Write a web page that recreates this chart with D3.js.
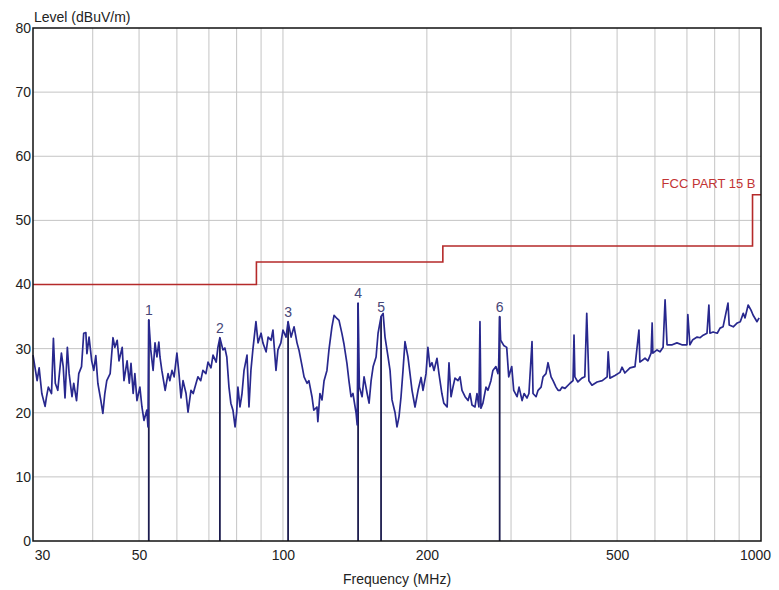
<!DOCTYPE html>
<html>
<head>
<meta charset="utf-8">
<script src="https://cdn.jsdelivr.net/npm/d3@7"></script>
<style>
  body { margin: 0; background: #fff; }
  text { font-family: "Liberation Sans", Arial, sans-serif; }
</style>
</head>
<body>
<svg id="chart"></svg>
<script>
// scan trace (MHz, dBuV/m)
var traceFreq = [
  30.0, 30.3, 30.6, 30.9, 31.3, 31.8, 32.0, 32.3, 32.8, 33.1, 33.4, 33.8, 34.4, 34.7, 35.0, 35.4, 35.7, 36.2, 36.5, 37.0,
  37.4, 37.9, 38.3, 38.7, 38.9, 39.3, 39.8, 40.2, 40.6, 41.0, 41.6, 42.0, 42.4, 42.8, 43.5, 44.1, 44.5, 45.0, 45.4, 46.1,
  46.5, 47.2, 47.7, 48.1, 48.6, 49.0, 49.5, 50.2, 50.7, 51.2, 51.9, 52.2, 52.4, 52.9, 53.5, 54.0, 54.5, 55.0, 55.3, 55.8,
  56.7, 57.5, 58.0, 58.6, 59.2, 60.0, 60.6, 61.2, 61.8, 62.7, 63.3, 64.2, 64.9, 65.8, 66.4, 67.3, 68.0, 69.0, 69.7, 70.7,
  71.4, 72.5, 73.1, 73.8, 74.9, 75.6, 76.3, 77.1, 77.8, 78.6, 79.4, 80.0, 80.5, 81.3, 82.1, 82.9, 84.1, 84.9, 85.7, 86.5,
  87.8, 88.7, 90.0, 90.8, 92.2, 93.1, 94.4, 95.3, 96.7, 97.6, 99.0, 100, 101.5, 102.5, 104, 105.5, 107, 108, 109.7, 110.7,
  112.3, 113.3, 115, 116, 117.8, 118.3, 119.5, 120.7, 121.9, 123.6, 124.8, 126.6, 127.9, 129.7, 131, 132.9, 134.1, 136.1, 137.4, 138.8,
  140.1, 142.2, 143.0, 143.6, 144.5, 146.4, 147.8, 150, 151.4, 152.9, 154.4, 156.6, 158.1, 160.4, 162, 163.5, 165.9, 167.5, 169.1, 171.6,
  173.2, 174.9, 176.6, 178.3, 180, 182.6, 184.4, 186.2, 188.9, 191.7, 194.5, 196.3, 199.2, 201, 203, 205, 207, 210, 212, 215,
  217, 220.5, 222.5, 224.7, 226.8, 229, 232.3, 234.6, 236.9, 240.4, 243.9, 246.2, 248.6, 252.2, 254.6, 257, 258.3, 259.5, 262, 265.9,
  268.4, 272.3, 274.9, 278.9, 281.6, 282.6, 284, 285.4, 289.6, 293.8, 296.7, 301, 303.9, 308.8, 311.8, 316.4, 319.5, 324, 327, 331.9,
  333.5, 338.4, 341.7, 346.7, 350, 355, 358.5, 363.8, 367.3, 372.6, 376.3, 380, 383.5, 389, 398.6, 404.4, 406.3, 408, 414, 422,
  428, 432, 436.5, 443, 454, 465.5, 476.6, 479, 483, 495, 507, 512, 519, 532, 545, 555.5, 558, 572, 580, 589,
  592, 594, 606, 615, 624, 630, 636, 652, 667, 683, 700, 703, 710, 720, 735, 746, 757, 771, 778, 782,
  794, 810, 821, 833, 853, 858, 875, 892, 905, 918, 926, 940, 953, 963, 981, 991
];
var traceLevel = [
  29, 27, 25, 27, 23, 21, 22.4, 24, 23, 31.6, 24.6, 23.5, 29.3, 27.2, 22.3, 30.2, 26.1, 22.5, 24.6, 21.9,
  26.1, 27.2, 32.4, 32.5, 29.2, 31.8, 28.1, 26.6, 28.9, 24.6, 21.9, 19.9, 23, 25, 26.1, 31.7, 30.2, 31.3, 28.1, 30.2,
  25, 28.1, 24.6, 27.7, 23, 26.1, 21.9, 24, 20.9, 18.8, 20.4, 17.8, 34.5, 29.8, 26.6, 30.9, 28.7, 31, 28.7, 26.6,
  23.5, 26.1, 25, 26.6, 25.6, 29.3, 26.1, 22.3, 25, 23, 20.1, 23.5, 23, 24.6, 25.6, 25, 26.6, 26.1, 27.9, 27,
  29, 27.9, 30.2, 31.7, 29.8, 30.1, 28.7, 24, 21.5, 20.4, 17.8, 20, 24, 20.9, 23, 26.6, 29, 20.9, 26.6, 29.8,
  34.2, 30.9, 32.4, 30.9, 29.5, 31.8, 31.3, 32.9, 26.6, 29.8, 30.9, 32.9, 31.8, 34.2, 31.8, 33.4, 30.9, 29.8, 27.2, 25.6,
  24.6, 25, 22.5, 20.4, 20.9, 18.6, 23, 22, 25, 26.6, 29.8, 33.4, 35.2, 34.7, 34.4, 32.3, 30.8, 27.7, 25, 22.5,
  23, 20, 18.1, 37.1, 24, 22.5, 25.6, 23, 21.5, 25, 27.2, 28.7, 32.4, 35, 35.5, 31.8, 28.7, 26.6, 22, 20,
  17.8, 19.4, 22.5, 26.6, 31.1, 28.7, 26.1, 23.5, 20.9, 23.5, 25.5, 23.5, 26.1, 30.2, 27.2, 27.8, 26.6, 28.5, 26.1, 23,
  21.5, 20.9, 27.8, 22.5, 24, 25.4, 25, 25.6, 23.5, 22.5, 21.9, 23, 21.2, 20.9, 23, 20.9, 34.2, 20.7, 21.5, 24,
  23.5, 25, 26.6, 27.2, 26.1, 27.2, 35, 31.3, 30.5, 30.2, 25.6, 27.2, 23.5, 22.5, 24, 21.9, 23, 22.3, 23, 31.1,
  23, 22.5, 23.5, 24, 25.6, 26.1, 27.8, 25.6, 25, 24, 23.5, 23.5, 24, 23.8, 24.6, 25, 32.1, 25.6, 24.8, 25.4,
  25.6, 35.5, 25, 24.3, 24.8, 25, 25.6, 29.5, 25.4, 25.8, 26.3, 27.1, 26.2, 27, 27.2, 32.9, 27.9, 28.5, 28.1, 29.3,
  34, 29.3, 29.8, 29.5, 30.2, 37.6, 30.6, 30.6, 30.9, 30.6, 30.6, 35.3, 30.6, 31.4, 31.8, 31.7, 32.1, 32.4, 36.8, 32.4,
  32.6, 32.4, 33.2, 33.4, 37.1, 33.7, 33.4, 34, 34.2, 35.5, 34.8, 36.8, 36, 35.2, 34.2, 34.8
];

// numbered peak markers
var markerFreq = [52.4, 73.8, 102.5, 143.6, 160.4, 284];
var markerLevel = [34.5, 31.7, 34.2, 37.1, 35, 35];
var markerName = ["1", "2", "3", "4", "5", "6"];

// FCC part 15 B limit (step after each point)
var limitFreq = [30, 88, 216, 960, 1000];
var limitLevel = [40, 43.5, 46, 54, 54];

var yTicks = [0, 10, 20, 30, 40, 50, 60, 70, 80];
var xGrid = [40, 50, 60, 70, 80, 90, 100, 200, 300, 400, 500, 600, 700, 800, 900];
var xTickLabels = [30, 50, 100, 200, 500, 1000];

var w = 779, h = 590;
var padding = { top: 28, bottom: 49, left: 33, right: 18 };

var svg = d3.select("#chart").attr("width", w).attr("height", h);

var xScale = d3.scaleLog()
  .domain([30, 1000])
  .range([padding.left, w - padding.right]);
var yScale = d3.scaleLinear()
  .domain([0, 80])
  .range([h - padding.bottom, padding.top]);

// grid
svg.append("g").selectAll("line")
  .data(xGrid).enter().append("line")
  .attr("x1", function(d) { return xScale(d); })
  .attr("x2", function(d) { return xScale(d); })
  .attr("y1", yScale(0)).attr("y2", yScale(80))
  .attr("stroke", "#c4c4c4").attr("stroke-width", 1);
svg.append("g").selectAll("line")
  .data(yTicks.slice(1, -1)).enter().append("line")
  .attr("x1", xScale(30)).attr("x2", xScale(1000))
  .attr("y1", function(d) { return yScale(d); })
  .attr("y2", function(d) { return yScale(d); })
  .attr("stroke", "#c4c4c4").attr("stroke-width", 1);

// limit line
var limit = limitFreq.map(function(f, i) { return [f, limitLevel[i]]; });
svg.append("path")
  .datum(limit)
  .attr("fill", "none")
  .attr("stroke", "#b52a2a")
  .attr("stroke-width", 1.6)
  .attr("d", d3.line()
    .x(function(d) { return xScale(d[0]); })
    .y(function(d) { return yScale(d[1]); })
    .curve(d3.curveStepAfter));

svg.append("text")
  .text("FCC PART 15 B")
  .attr("x", xScale(960) + 3)
  .attr("y", yScale(54) - 7)
  .attr("text-anchor", "end")
  .attr("font-size", "13px")
  .attr("fill", "#c23434");

// marker lines down to the axis
svg.append("g").selectAll("line")
  .data(markerFreq).enter().append("line")
  .attr("x1", function(d) { return xScale(d); })
  .attr("x2", function(d) { return xScale(d); })
  .attr("y1", function(d, i) { return yScale(markerLevel[i]); })
  .attr("y2", yScale(0))
  .attr("stroke", "#1c1c4e")
  .attr("stroke-width", 1.8);

// trace
var trace = traceFreq.map(function(f, i) { return [f, traceLevel[i]]; });
svg.append("path")
  .datum(trace)
  .attr("fill", "none")
  .attr("stroke", "#28288e")
  .attr("stroke-width", 1.7)
  .attr("stroke-linejoin", "round")
  .attr("d", d3.line()
    .x(function(d) { return xScale(d[0]); })
    .y(function(d) { return yScale(d[1]); }));

svg.append("g").selectAll("text")
  .data(markerFreq).enter().append("text")
  .text(function(d, i) { return markerName[i]; })
  .attr("x", function(d) { return xScale(d); })
  .attr("y", function(d, i) { return yScale(markerLevel[i]) - 5; })
  .attr("text-anchor", "middle")
  .attr("font-size", "14px")
  .attr("fill", "#464678");

// frame
svg.append("rect")
  .attr("x", xScale(30)).attr("y", yScale(80))
  .attr("width", xScale(1000) - xScale(30))
  .attr("height", yScale(0) - yScale(80))
  .attr("fill", "none").attr("stroke", "#111").attr("stroke-width", 1.5);

// axis labels
var yAxis = d3.axisLeft(yScale).tickValues(yTicks).tickSize(0).tickPadding(2);
svg.append("g")
  .attr("transform", "translate(" + padding.left + ",0)")
  .call(yAxis)
  .call(function(g) { g.select(".domain").remove(); })
  .selectAll("text")
  .attr("font-size", "14px").attr("fill", "#222")
  .attr("font-family", "Liberation Sans, Arial, sans-serif");

var xAxis = d3.axisBottom(xScale).tickValues(xTickLabels).tickSize(0).tickPadding(9)
  .tickFormat(d3.format("d"));
svg.append("g")
  .attr("transform", "translate(0," + (h - padding.bottom) + ")")
  .call(xAxis)
  .call(function(g) { g.select(".domain").remove(); })
  .selectAll("text")
  .attr("font-size", "14px").attr("fill", "#222")
  .attr("font-family", "Liberation Sans, Arial, sans-serif")
  .attr("dx", function(d) { return d === 30 ? 9 : (d === 1000 ? -6 : 0); });

svg.append("text")
  .text("Level (dBuV/m)")
  .attr("x", padding.left + 1)
  .attr("y", 22)
  .attr("font-size", "14px")
  .attr("fill", "#222");

svg.append("text")
  .text("Frequency (MHz)")
  .attr("x", 397)
  .attr("y", 584)
  .attr("text-anchor", "middle")
  .attr("font-size", "14px")
  .attr("fill", "#222");
</script>
</body>
</html>
